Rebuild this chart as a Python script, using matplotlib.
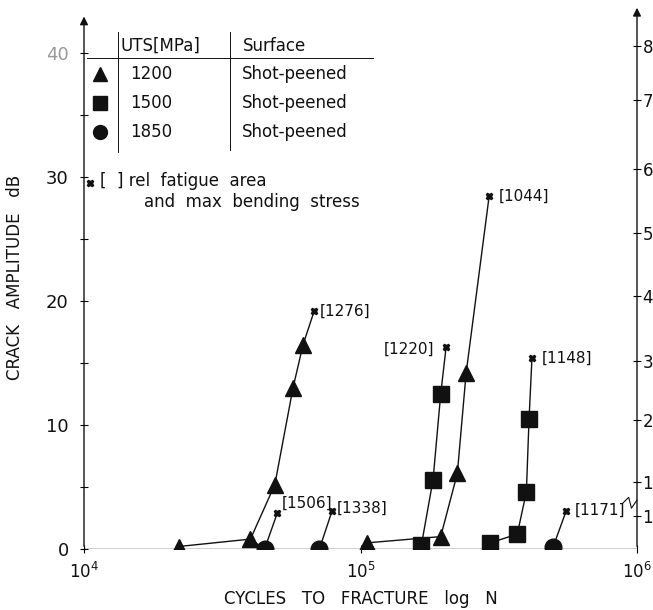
import matplotlib
matplotlib.use("Agg")
import matplotlib.pyplot as plt

# 1200 MPa, shot-peened (triangles)
tri_a_n = [2.2e4, 4.0e4, 4.9e4, 5.7e4, 6.2e4]
tri_a_db = [0.2, 0.8, 5.2, 13.0, 16.5]
tri_b_n = [1.06e5, 1.95e5, 2.24e5, 2.41e5]
tri_b_db = [0.5, 1.0, 6.1, 14.2]
# 1500 MPa (squares)
sq_a_n = [1.66e5, 1.83e5, 1.95e5]
sq_a_db = [0.3, 5.6, 12.5]
sq_b_n = [2.95e5, 3.69e5, 3.98e5, 4.07e5]
sq_b_db = [0.5, 1.2, 4.6, 10.5]
# 1850 MPa (circles)
circ_a_n = [4.5e4]
circ_a_db = [0.0]
circ_b_n = [7.1e4]
circ_b_db = [0.0]
circ_c_n = [4.98e5]
circ_c_db = [0.2]

# fracture points [rel fatigue area and max bending stress]
end_n = [6.8e4, 5.0e4, 7.9e4, 2.92e5, 2.04e5, 4.17e5, 5.55e5]
end_db = [19.2, 2.9, 3.1, 28.5, 16.3, 15.4, 3.1]
end_labels = ["[1276]", "[1506]", "[1338]", "[1044]", "[1220]", "[1148]", "[1171]"]

right_ticks = [40.6, 36.2, 30.7, 25.5, 20.4, 15.2, 10.4, 5.4, 2.7]
right_labels = ["8", "7", "6", "5", "4", "3", "2", "1", "1"]

W, H = 653, 610
fig = plt.figure(figsize=(W / 100, H / 100), dpi=100)
ax = fig.add_axes([84 / W, (H - 549) / H, 553 / W, 544 / H])
ax.set_xscale("log")
ax.set_xlim(1e4, 1e6)
ax.set_ylim(0, 43.9)

ink = "#111111"
lw = 1.0

def series(n, db, en, edb, marker, ms):
    ax.plot(n + [en], db + [edb], color=ink, lw=lw, zorder=2)
    ax.plot(n, db, ls="none", marker=marker, ms=ms, color=ink, zorder=3)
    ax.plot([en], [edb], ls="none", marker="X", ms=5, color=ink, zorder=3)

series(tri_a_n, tri_a_db, end_n[0], end_db[0], "^", 11)
series(circ_a_n, circ_a_db, end_n[1], end_db[1], "o", 12)
series(circ_b_n, circ_b_db, end_n[2], end_db[2], "o", 12)
series(tri_b_n, tri_b_db, end_n[3], end_db[3], "^", 11)
series(sq_a_n, sq_a_db, end_n[4], end_db[4], "s", 11)
series(sq_b_n, sq_b_db, end_n[5], end_db[5], "s", 11)
series(circ_c_n, circ_c_db, end_n[6], end_db[6], "o", 12)
# link between the first triangle runs along the baseline
ax.plot([tri_a_n[1], circ_a_n[0]], [tri_a_db[1], circ_a_db[0]], color=ink, lw=lw, zorder=2)

offsets = [(6, 0), (4, 10), (5, 2), (10, 0), (-62, -2), (10, 0), (8, 0)]
for n, db, lab, off in zip(end_n, end_db, end_labels, offsets):
    ax.annotate(lab, (n, db), xytext=off, textcoords="offset pixels",
                fontsize=11, va="center", ha="left", color=ink)

# axes styling
for s in ["top", "right", "left", "bottom"]:
    ax.spines[s].set_visible(False)
ax.axhline(0, color=ink, lw=lw, zorder=1)
ax.annotate("", xy=(0, 43.2), xytext=(0, 0), xycoords=("axes fraction", "data"),
            arrowprops=dict(arrowstyle="-|>", color=ink, lw=lw, mutation_scale=12))
ax.annotate("", xy=(1, 43.9), xytext=(1, 0), xycoords=("axes fraction", "data"),
            arrowprops=dict(arrowstyle="-|>", color=ink, lw=lw, mutation_scale=12))

ax.set_yticks([0, 10, 20, 30, 40])
ax.set_yticks([5, 15, 25, 35], minor=True)
ax.set_yticklabels(["0", "10", "20", "30", "40"], fontsize=13, color=ink)
ax.get_yticklabels()[-1].set_color("#999999")
ax.tick_params(axis="y", which="both", direction="inout", length=6, width=0.8, pad=8)
ax.set_xticks([1e4, 1e5, 1e6])
ax.set_xticklabels([r"10$^4$", r"10$^5$", r"10$^6$"], fontsize=12, color=ink)
ax.tick_params(axis="x", which="major", direction="inout", length=6, width=0.8, pad=6)
ax.tick_params(axis="x", which="minor", length=0)

ax2 = ax.twinx()
ax2.set_ylim(ax.get_ylim())
for s in ["top", "right", "left", "bottom"]:
    ax2.spines[s].set_visible(False)
ax2.set_yticks(right_ticks)
ax2.set_yticklabels(right_labels, fontsize=12, color=ink)
ax2.tick_params(axis="y", direction="inout", length=6, width=0.8, pad=1)

# axis break zigzag on right axis
ax.plot([0.975, 0.985, 0.99, 1.0], [0.085, 0.095, 0.075, 0.09],
        transform=ax.transAxes, color=ink, lw=0.8, clip_on=False)

ax.set_ylabel("CRACK   AMPLITUDE   dB", fontsize=12, color=ink, labelpad=16)
ax.set_xlabel("CYCLES   TO   FRACTURE   log   N", fontsize=12, color=ink, labelpad=6)

# legend table
fx = lambda x: x / W
fy = lambda y: 1 - y / H
fig.text(fx(121), fy(46), "UTS[MPa]", fontsize=12, va="center", color=ink)
fig.text(fx(243), fy(46), "Surface", fontsize=12, va="center", color=ink)
fig.add_artist(plt.Line2D([fx(87), fx(373)], [fy(58), fy(58)], color=ink, lw=0.7))
fig.add_artist(plt.Line2D([fx(118), fx(118)], [fy(32), fy(152)], color=ink, lw=0.7))
fig.add_artist(plt.Line2D([fx(230), fx(230)], [fy(32), fy(150)], color=ink, lw=0.7))
rows = [("^", "1200"), ("s", "1500"), ("o", "1850")]
for i, (m, uts) in enumerate(rows):
    y = 74 + i * 29
    fig.add_artist(plt.Line2D([fx(100)], [fy(y)], marker=m, ms=10, color=ink, ls="none"))
    fig.text(fx(130), fy(y), uts, fontsize=12, va="center", color=ink)
    fig.text(fx(242), fy(y), "Shot-peened", fontsize=12, va="center", color=ink)
fig.add_artist(plt.Line2D([fx(90)], [fy(183)], marker="X", ms=5, color=ink, ls="none"))
fig.text(fx(100), fy(181), "[  ] rel  fatigue  area", fontsize=12, va="center", color=ink)
fig.text(fx(144), fy(202), "and  max  bending  stress", fontsize=12, va="center", color=ink)

fig.savefig("out.png", dpi=100)
